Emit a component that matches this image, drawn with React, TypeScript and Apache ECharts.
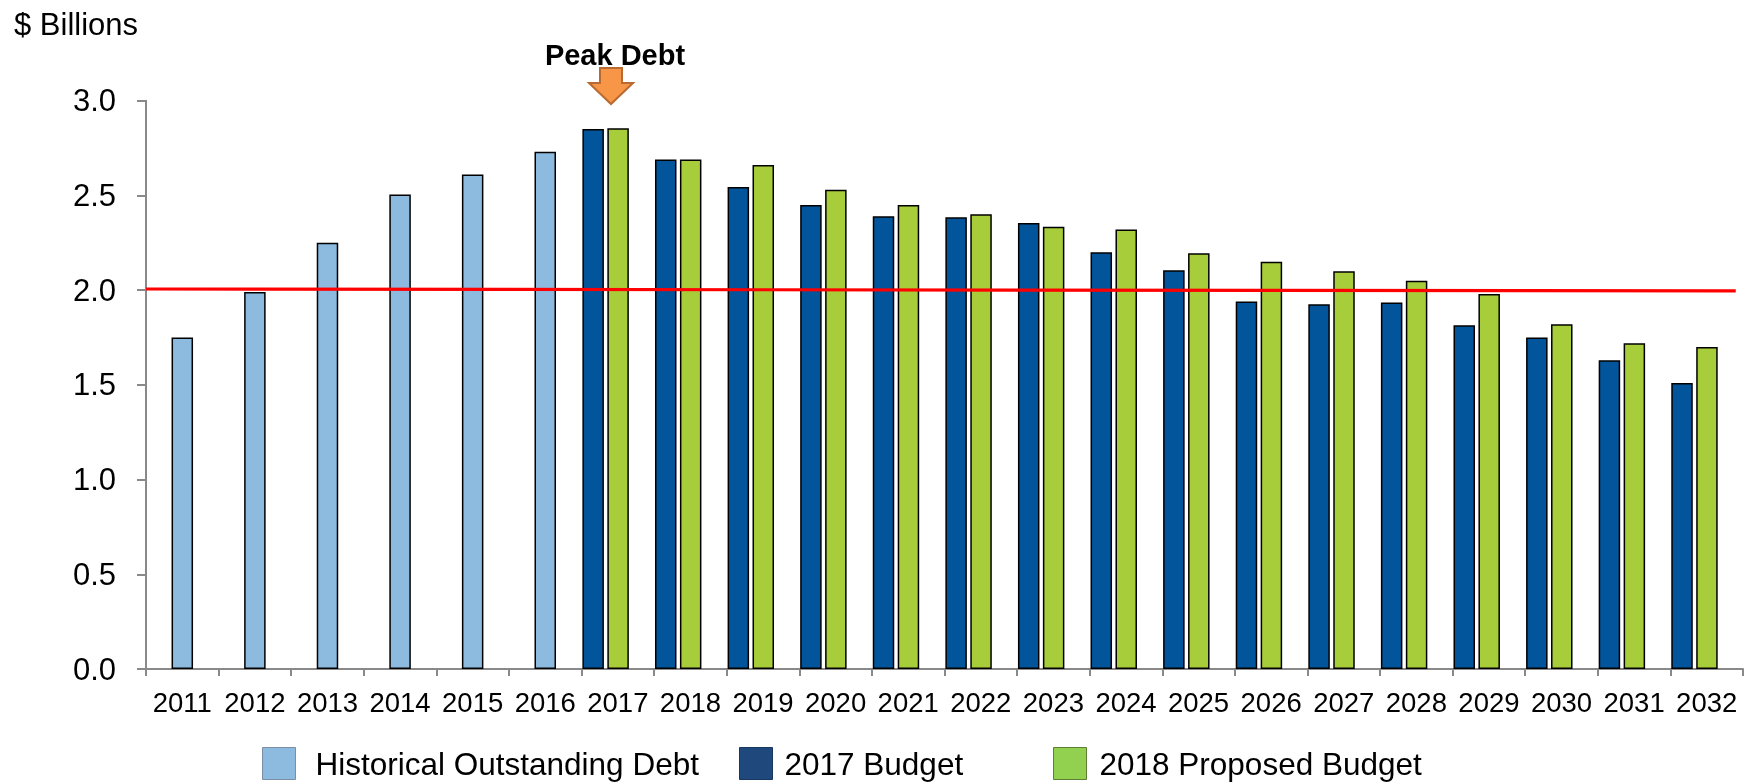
import React, { useEffect, useRef } from 'react';
import * as echarts from 'echarts';

const years = ['2011','2012','2013','2014','2015','2016','2017','2018','2019','2020','2021','2022','2023','2024','2025','2026','2027','2028','2029','2030','2031','2032'];
const historical = [1.75, 1.99, 2.25, 2.505, 2.61, 2.73];
const budget2017 = [2.85, 2.69, 2.545, 2.45, 2.39, 2.385, 2.355, 2.2, 2.105, 1.94, 1.925, 1.935, 1.815, 1.75, 1.63, 1.51];
const budget2018 = [2.855, 2.69, 2.66, 2.53, 2.45, 2.4, 2.335, 2.32, 2.195, 2.15, 2.1, 2.05, 1.98, 1.82, 1.72, 1.7];
const thresholdX = [0, 21.9];
const thresholdY = [2.006, 1.996];
const yTicks = [0, 0.5, 1, 1.5, 2, 2.5, 3];

const FONT = '"Liberation Sans", Arial, Helvetica, sans-serif';

export default function App() {
  const ref = useRef<HTMLDivElement>(null);
  useEffect(() => {
    const chart = echarts.init(ref.current!, null, { renderer: 'svg' });
    const nHist = historical.length;
    const histData = years.map((_, i) => (i < nHist ? historical[i] : null));
    const b17 = years.map((_, i) => (i >= nHist ? budget2017[i - nHist] : null));
    const b18 = years.map((_, i) => (i >= nHist ? budget2018[i - nHist] : null));
    const pad = years.map(() => null);
    const lineData = thresholdX.map((x, i) => [x, thresholdY[i]]);
    const border = { borderColor: '#000', borderWidth: 1.5 };

    const option: any = {
      animation: false,
      textStyle: { fontFamily: FONT },
      title: [
        { text: '$ Billions', left: 9, top: 4, textStyle: { fontSize: 31, fontWeight: 'normal', color: '#000', fontFamily: FONT } },
        { text: 'Peak Debt', left: 610, top: 35, textAlign: 'center', textStyle: { fontSize: 29, fontWeight: 'bold', color: '#000', fontFamily: FONT } },
      ],
      graphic: [
        {
          type: 'polygon',
          shape: { points: [[600, 68], [622, 68], [622, 83], [633, 83], [611, 104], [589, 83], [600, 83]] },
          style: { fill: '#F79646', stroke: '#B86A30', lineWidth: 2 },
          z: 10,
        },
      ],
      legend: [
        {
          left: 262, top: 747, padding: 0, itemWidth: 33, itemHeight: 32, icon: 'rect', selectedMode: false,
          data: [{ name: 'Historical Outstanding Debt', itemStyle: { color: '#8DBBE0', borderColor: '#7C8EA3', borderWidth: 1 } }],
          textStyle: { fontSize: 31.5, color: '#000', fontFamily: FONT, padding: [0, 0, 0, 15] },
        },
        {
          left: 739, top: 747, padding: 0, itemWidth: 33, itemHeight: 32, icon: 'rect', selectedMode: false,
          data: [{ name: '2017 Budget', itemStyle: { color: '#1F497D', borderColor: '#17375E', borderWidth: 1 } }],
          textStyle: { fontSize: 31.5, color: '#000', fontFamily: FONT, padding: [0, 0, 0, 7] },
        },
        {
          left: 1053, top: 747, padding: 0, itemWidth: 33, itemHeight: 32, icon: 'rect', selectedMode: false,
          data: [{ name: '2018 Proposed Budget', itemStyle: { color: '#92D050', borderColor: '#5E7F33', borderWidth: 1 } }],
          textStyle: { fontSize: 31.5, color: '#000', fontFamily: FONT, padding: [0, 0, 0, 8] },
        },
      ],
      grid: { left: 146, right: 13, top: 100.7, bottom: 114, containLabel: false },
      xAxis: [
        {
          type: 'category', data: years, boundaryGap: true,
          axisLine: { lineStyle: { color: '#898989', width: 2 } },
          axisTick: { show: true, length: 7, lineStyle: { color: '#898989', width: 2 } },
          axisLabel: { fontSize: 27.5, color: '#000', margin: 19, fontFamily: FONT, interval: 0 },
        },
        { type: 'category', data: years, boundaryGap: true, show: false },
        { type: 'value', min: 0, max: 22, show: false },
      ],
      yAxis: {
        type: 'value', min: 0, max: 3, interval: 0.5,
        splitLine: { show: false },
        axisLine: { show: true, lineStyle: { color: '#898989', width: 2 } },
        axisTick: { show: true, length: 9, lineStyle: { color: '#898989', width: 2 } },
        axisLabel: {
          fontSize: 31, color: '#000', margin: 30, fontFamily: FONT,
          formatter: (v: number) => (yTicks.includes(v) ? v.toFixed(1) : ''),
        },
      },
      series: [
        {
          name: 'Historical Outstanding Debt', type: 'bar', xAxisIndex: 0, barWidth: 21.5,
          data: histData, itemStyle: { color: '#8DBBE0', ...border },
        },
        {
          name: '2017 Budget', type: 'bar', xAxisIndex: 1, barWidth: 21.5, barGap: '16%',
          data: b17, itemStyle: { color: '#02549B', ...border },
        },
        {
          name: '2018 Proposed Budget', type: 'bar', xAxisIndex: 1, barWidth: 21.5, barGap: '16%',
          data: b18, itemStyle: { color: '#A8CD3A', ...border },
        },
        {
          name: '__pad', type: 'bar', xAxisIndex: 1, barWidth: 21, barGap: '16%', silent: true,
          data: pad, itemStyle: { color: 'rgba(0,0,0,0)' },
        },
        {
          name: 'Threshold', type: 'line', xAxisIndex: 2, data: lineData, symbol: 'none', silent: true,
          lineStyle: { color: '#FF0000', width: 3.2 }, z: 5,
        },
      ],
    };
    chart.setOption(option);
    return () => chart.dispose();
  }, []);
  return <div ref={ref} style={{ position: 'fixed', left: 0, top: 0, width: 1756, height: 783 }} />;
}
